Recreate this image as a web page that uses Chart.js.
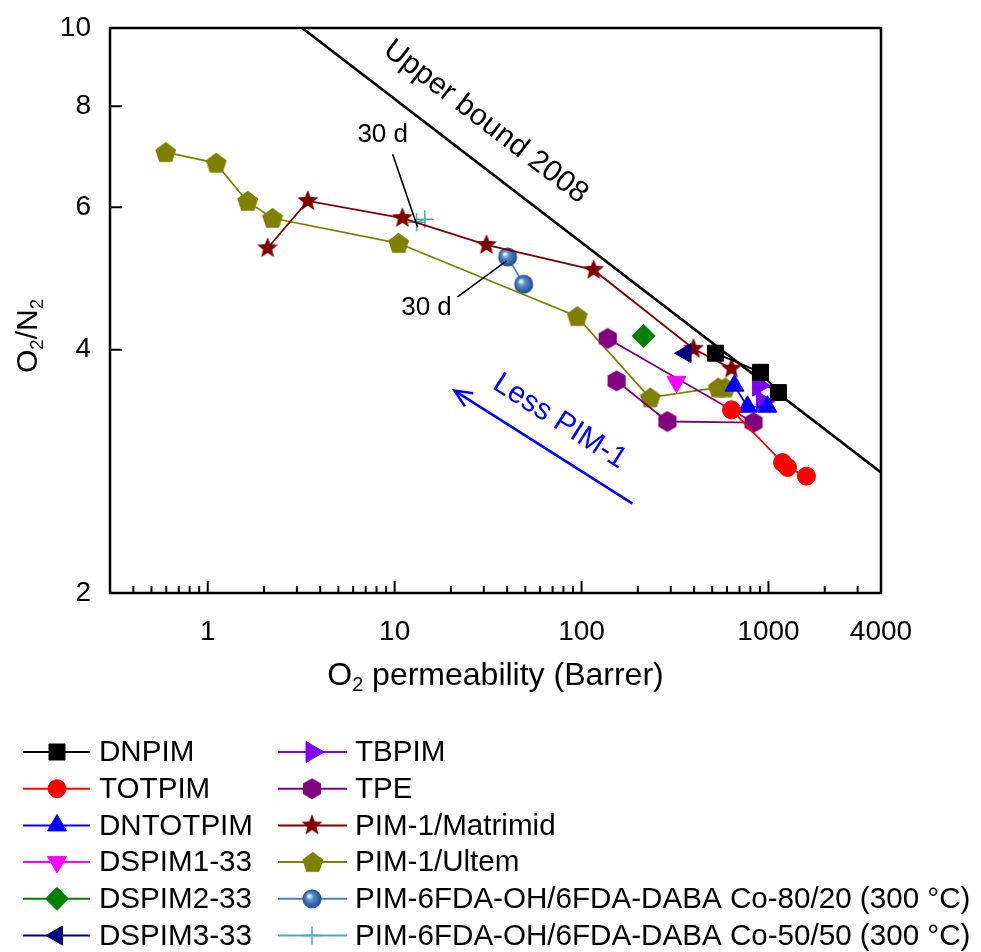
<!DOCTYPE html>
<html>
<head>
<meta charset="utf-8">
<script src="https://cdn.jsdelivr.net/npm/chart.js@4.4.1/dist/chart.umd.min.js"></script>
<style>
  html, body { margin: 0; padding: 0; background: #fff; }
  #wrap { width: 981px; height: 952px; }
</style>
</head>
<body>
<div id="wrap"><canvas id="chart" width="981" height="952"></canvas></div>
<script>
// O2 permeability (Barrer) vs O2/N2 selectivity
const dnpimX = [521, 906, 1131];
const dnpimY = [3.96, 3.75, 3.54];
const totpimX = [634, 1189, 1265, 1596];
const totpimY = [3.37, 2.90, 2.86, 2.79];
const dntotpimX = [658, 772, 988];
const dntotpimY = [3.61, 3.40, 3.40];
const dspim1X = [322];
const dspim1Y = [3.65];
const dspim2X = [215];
const dspim2Y = [4.16];
const dspim3X = [360];
const dspim3Y = [3.96];
const tbpimX = [884, 929];
const tbpimY = [3.61, 3.45];
const tpeX = [138, 831, 288, 154];
const tpeY = [4.13, 3.25, 3.26, 3.66];
const matrimidX = [2.09, 3.43, 11.0, 31.0, 116, 397, 634];
const matrimidY = [5.34, 6.11, 5.82, 5.39, 5.02, 4.01, 3.79];
const ultemX = [0.59, 1.10, 1.62, 2.20, 10.4, 94, 231, 533, 582];
const ultemY = [7.02, 6.81, 6.11, 5.82, 5.42, 4.40, 3.49, 3.59, 3.59];
const co8020X = [40.2, 49.0];
const co8020Y = [5.21, 4.82];
const co5050X = [13.1, 14.5];
const co5050Y = [5.75, 5.80];
const boundX = [3.2, 4000];   // upper bound 2008
const boundY = [10, 2.82];

// axes
const xMin = 0.3, xMax = 4000, yMin = 2, yMax = 10;
const xLabelTicks = [1, 10, 100, 1000, 4000];
const xMajorTicks = [1, 10, 100, 1000];
const xMinorTicks = [0.4, 0.5, 0.6, 0.7, 0.8, 0.9, 2, 3, 4, 5, 6, 7, 8, 9,
  20, 30, 40, 50, 60, 70, 80, 90, 200, 300, 400, 500, 600, 700, 800, 900, 2000, 3000];
const yLabelTicks = [2, 4, 6, 8, 10];

// annotations (data coordinates)
const boundLabel = { text: 'Upper bound 2008', x: 30.7, y: 7.65 };
const lessLabel = { text: 'Less PIM-1', x: 76.3, y: 3.26 };
const arrowTail = [187.4, 2.58];
const arrowHead = [20.9, 3.56];
const notes = [
  { text: '30 d', x: 8.63, y: 7.37, from: [9.76, 6.98], to: [13.27, 5.67] },
  { text: '30 d', x: 14.8, y: 4.50, from: [21.7, 4.65], to: [39.7, 5.15] }
];

const FONT = "'Liberation Sans', Arial, sans-serif";

function pts(xs, ys) {
  return xs.map((x, i) => ({ x: x, y: ys[i] }));
}

// marker images for shapes Chart.js does not have
function makeMarker(size, draw) {
  const c = document.createElement('canvas');
  c.width = size; c.height = size;
  const g = c.getContext('2d');
  draw(g, size / 2);
  return c;
}
function polygon(g, c, n, r, rot, inner) {
  g.beginPath();
  const steps = inner ? n * 2 : n;
  for (let i = 0; i < steps; i++) {
    const rr = inner && i % 2 ? inner : r;
    const a = rot + i * Math.PI * 2 / steps;
    const px = c + rr * Math.cos(a), py = c + rr * Math.sin(a);
    if (i === 0) g.moveTo(px, py); else g.lineTo(px, py);
  }
  g.closePath();
}
const starImg = makeMarker(24, (g, c) => {
  polygon(g, c, 5, 11, -Math.PI / 2, 4.8);
  g.fillStyle = '#800000'; g.fill();
});
const pentImg = makeMarker(24, (g, c) => {
  polygon(g, c + 0.8, 5, 11, -Math.PI / 2);
  g.fillStyle = '#808000'; g.fill();
});
const hexImg = makeMarker(24, (g, c) => {
  polygon(g, c, 6, 10.5, -Math.PI / 2);
  g.fillStyle = '#800080'; g.fill();
});
const sphereImg = makeMarker(22, (g, c) => {
  const grd = g.createRadialGradient(c - 3, c - 3, 1, c, c, 9.5);
  grd.addColorStop(0, '#e8f0ff');
  grd.addColorStop(0.3, '#5b8fd0');
  grd.addColorStop(0.8, '#2a5fa3');
  grd.addColorStop(1, '#1c4580');
  g.beginPath(); g.arc(c, c, 9.5, 0, Math.PI * 2);
  g.fillStyle = grd; g.fill();
});

function series(label, xs, ys, color, style, extra) {
  return Object.assign({
    label: label,
    data: pts(xs, ys),
    showLine: true,
    borderColor: color,
    backgroundColor: color,
    borderWidth: 1.8,
    pointStyle: style,
    pointBackgroundColor: color,
    pointBorderColor: color,
    pointBorderWidth: 1,
    pointRadius: 9,
    pointHoverRadius: 9
  }, extra || {});
}

const datasets = [
  series('DNPIM', dnpimX, dnpimY, '#000000', 'rect', { pointRadius: 11.3 }),
  series('TOTPIM', totpimX, totpimY, '#ff0000', 'circle', { pointRadius: 9 }),
  series('DNTOTPIM', dntotpimX, dntotpimY, '#0000ff', 'triangle', { pointRadius: 11 }),
  series('DSPIM1-33', dspim1X, dspim1Y, '#ff00ff', 'triangle', { pointRadius: 11, pointRotation: 180 }),
  series('DSPIM2-33', dspim2X, dspim2Y, '#008000', 'rectRot', { pointRadius: 11.5 }),
  series('DSPIM3-33', dspim3X, dspim3Y, '#000080', 'triangle', { pointRadius: 11, pointRotation: 270 }),
  series('TBPIM', tbpimX, tbpimY, '#8000ff', 'triangle', { pointRadius: 12, pointRotation: 90 }),
  series('TPE', tpeX, tpeY, '#800080', hexImg),
  series('PIM-1/Matrimid', matrimidX, matrimidY, '#800000', starImg),
  series('PIM-1/Ultem', ultemX, ultemY, '#808000', pentImg),
  series('PIM-6FDA-OH/6FDA-DABA Co-80/20 (300 \u00B0C)', co8020X, co8020Y, '#4f81bd', sphereImg),
  series('PIM-6FDA-OH/6FDA-DABA Co-50/50 (300 \u00B0C)', co5050X, co5050Y, '#3fb0ad', 'cross', { pointRadius: 9, pointBorderWidth: 1.5 }),
  {
    label: 'Upper bound 2008',
    data: pts(boundX, boundY),
    showLine: true,
    borderColor: '#000',
    borderWidth: 2.6,
    pointRadius: 0
  }
];

function subText(ctx, parts, size) {
  // parts: [text, isSubscript]
  let w = 0;
  parts.forEach(p => {
    ctx.font = (p[1] ? size * 0.62 : size) + 'px ' + FONT;
    w += ctx.measureText(p[0]).width;
  });
  return w;
}
function drawSubText(ctx, parts, size, x, y) {
  let cx = x - subText(ctx, parts, size) / 2;
  parts.forEach(p => {
    ctx.font = (p[1] ? size * 0.62 : size) + 'px ' + FONT;
    ctx.fillText(p[0], cx, p[1] ? y + size * 0.2 : y);
    cx += ctx.measureText(p[0]).width;
  });
}

function drawLegendMarker(ctx, ds, x, y) {
  const st = ds.pointStyle;
  if (st instanceof HTMLCanvasElement) {
    ctx.drawImage(st, x - st.width / 2, y - st.height / 2);
    return;
  }
  ctx.fillStyle = ds.pointBackgroundColor;
  ctx.strokeStyle = ds.pointBorderColor;
  ctx.lineWidth = ds.pointBorderWidth;
  Chart.helpers.drawPoint(ctx, {
    pointStyle: st, rotation: ds.pointRotation || 0,
    radius: ds.pointRadius, borderWidth: ds.pointBorderWidth
  }, x, y);
}

const decor = {
  id: 'decor',
  afterDraw(chart) {
    const ctx = chart.ctx;
    const a = chart.chartArea;
    const xs = chart.scales.x, ys = chart.scales.y;
    const P = (v) => [xs.getPixelForValue(v[0]), ys.getPixelForValue(v[1])];
    ctx.save();

    // frame
    ctx.strokeStyle = '#000';
    ctx.lineWidth = 2.5;
    ctx.strokeRect(a.left, a.top, a.right - a.left, a.bottom - a.top);

    // inward ticks
    ctx.lineWidth = 2;
    ctx.beginPath();
    xMajorTicks.forEach(v => {
      const px = xs.getPixelForValue(v);
      ctx.moveTo(px, a.bottom); ctx.lineTo(px, a.bottom - 12);
    });
    xMinorTicks.forEach(v => {
      const px = xs.getPixelForValue(v);
      ctx.moveTo(px, a.bottom); ctx.lineTo(px, a.bottom - 7);
    });
    yLabelTicks.forEach(v => {
      const py = ys.getPixelForValue(v);
      ctx.moveTo(a.left, py); ctx.lineTo(a.left + 12, py);
    });
    ctx.stroke();

    // axis titles
    ctx.fillStyle = '#000';
    ctx.textBaseline = 'alphabetic';
    ctx.textAlign = 'left';
    drawSubText(ctx, [['O', false], ['2', true], [' permeability (Barrer)', false]], 32,
      (a.left + a.right) / 2, 685);
    ctx.save();
    ctx.translate(37, 336);
    ctx.rotate(-Math.PI / 2);
    drawSubText(ctx, [['O', false], ['2', true], ['/N', false], ['2', true]], 30, 0, 0);
    ctx.restore();

    // upper bound label
    const b0 = P([boundX[0], boundY[0]]), b1 = P([boundX[1], boundY[1]]);
    const bAng = Math.atan2(b1[1] - b0[1], b1[0] - b0[0]);
    const bl = P([boundLabel.x, boundLabel.y]);
    ctx.save();
    ctx.translate(bl[0], bl[1]);
    ctx.rotate(bAng);
    ctx.font = '30px ' + FONT;
    ctx.textAlign = 'center';
    ctx.textBaseline = 'middle';
    ctx.fillText(boundLabel.text, 0, 0);
    ctx.restore();

    // "Less PIM-1" arrow
    const t = P(arrowTail), h = P(arrowHead);
    const ang = Math.atan2(t[1] - h[1], t[0] - h[0]);
    ctx.strokeStyle = '#0000ff';
    ctx.lineWidth = 2.5;
    ctx.beginPath();
    ctx.moveTo(t[0], t[1]); ctx.lineTo(h[0], h[1]);
    ctx.moveTo(h[0] + 19 * Math.cos(ang + 0.42), h[1] + 19 * Math.sin(ang + 0.42));
    ctx.lineTo(h[0], h[1]);
    ctx.lineTo(h[0] + 19 * Math.cos(ang - 0.42), h[1] + 19 * Math.sin(ang - 0.42));
    ctx.stroke();
    const ll = P([lessLabel.x, lessLabel.y]);
    ctx.save();
    ctx.translate(ll[0], ll[1]);
    ctx.rotate(ang);
    ctx.fillStyle = '#0000ff';
    ctx.font = '30px ' + FONT;
    ctx.textAlign = 'center';
    ctx.textBaseline = 'middle';
    ctx.fillText(lessLabel.text, 0, 0);
    ctx.restore();

    // "30 d" notes
    ctx.strokeStyle = '#000';
    ctx.lineWidth = 1.6;
    ctx.fillStyle = '#000';
    ctx.font = '26px ' + FONT;
    ctx.textAlign = 'center';
    ctx.textBaseline = 'middle';
    notes.forEach(n => {
      const f = P(n.from), e = P(n.to), c = P([n.x, n.y]);
      ctx.beginPath(); ctx.moveTo(f[0], f[1]); ctx.lineTo(e[0], e[1]); ctx.stroke();
      ctx.fillText(n.text, c[0], c[1]);
    });

    // legend, two columns
    const cols = [
      { x0: 23, x1: 90, mx: 57, tx: 99 },
      { x0: 278, x1: 347, mx: 312, tx: 355 }
    ];
    ctx.textAlign = 'left';
    ctx.textBaseline = 'middle';
    for (let i = 0; i < 12; i++) {
      const ds = chart.data.datasets[i];
      const col = cols[i < 6 ? 0 : 1];
      const y = 752 + (i % 6) * 36.7;
      ctx.strokeStyle = ds.borderColor;
      ctx.lineWidth = 2;
      ctx.beginPath(); ctx.moveTo(col.x0, y); ctx.lineTo(col.x1, y); ctx.stroke();
      drawLegendMarker(ctx, ds, col.mx, y);
      ctx.fillStyle = '#000';
      ctx.font = '29.6px ' + FONT;
      ctx.fillText(ds.label, col.tx, y + 1);
    }
    ctx.restore();
  }
};

const tickFont = { family: FONT, size: 28 };

new Chart(document.getElementById('chart'), {
  type: 'scatter',
  data: { datasets: datasets },
  options: {
    responsive: false,
    animation: false,
    layout: { padding: { top: 28, right: 100, bottom: 269, left: 0 } },
    plugins: { legend: { display: false }, tooltip: { enabled: false } },
    scales: {
      x: {
        type: 'logarithmic',
        min: xMin, max: xMax,
        grid: { display: false },
        border: { display: false },
        afterBuildTicks: s => { s.ticks = xLabelTicks.map(v => ({ value: v })); },
        afterFit: s => { s.height = 90; },
        ticks: {
          autoSkip: false, maxRotation: 0, padding: 14, color: '#000', font: tickFont,
          callback: v => String(v)
        }
      },
      y: {
        type: 'logarithmic',
        min: yMin, max: yMax,
        grid: { display: false },
        border: { display: false },
        afterBuildTicks: s => { s.ticks = yLabelTicks.map(v => ({ value: v })); },
        afterFit: s => { s.width = 110; },
        ticks: {
          autoSkip: false, padding: 11, color: '#000', font: tickFont,
          callback: v => String(v)
        }
      }
    }
  },
  plugins: [decor]
});
</script>
</body>
</html>
